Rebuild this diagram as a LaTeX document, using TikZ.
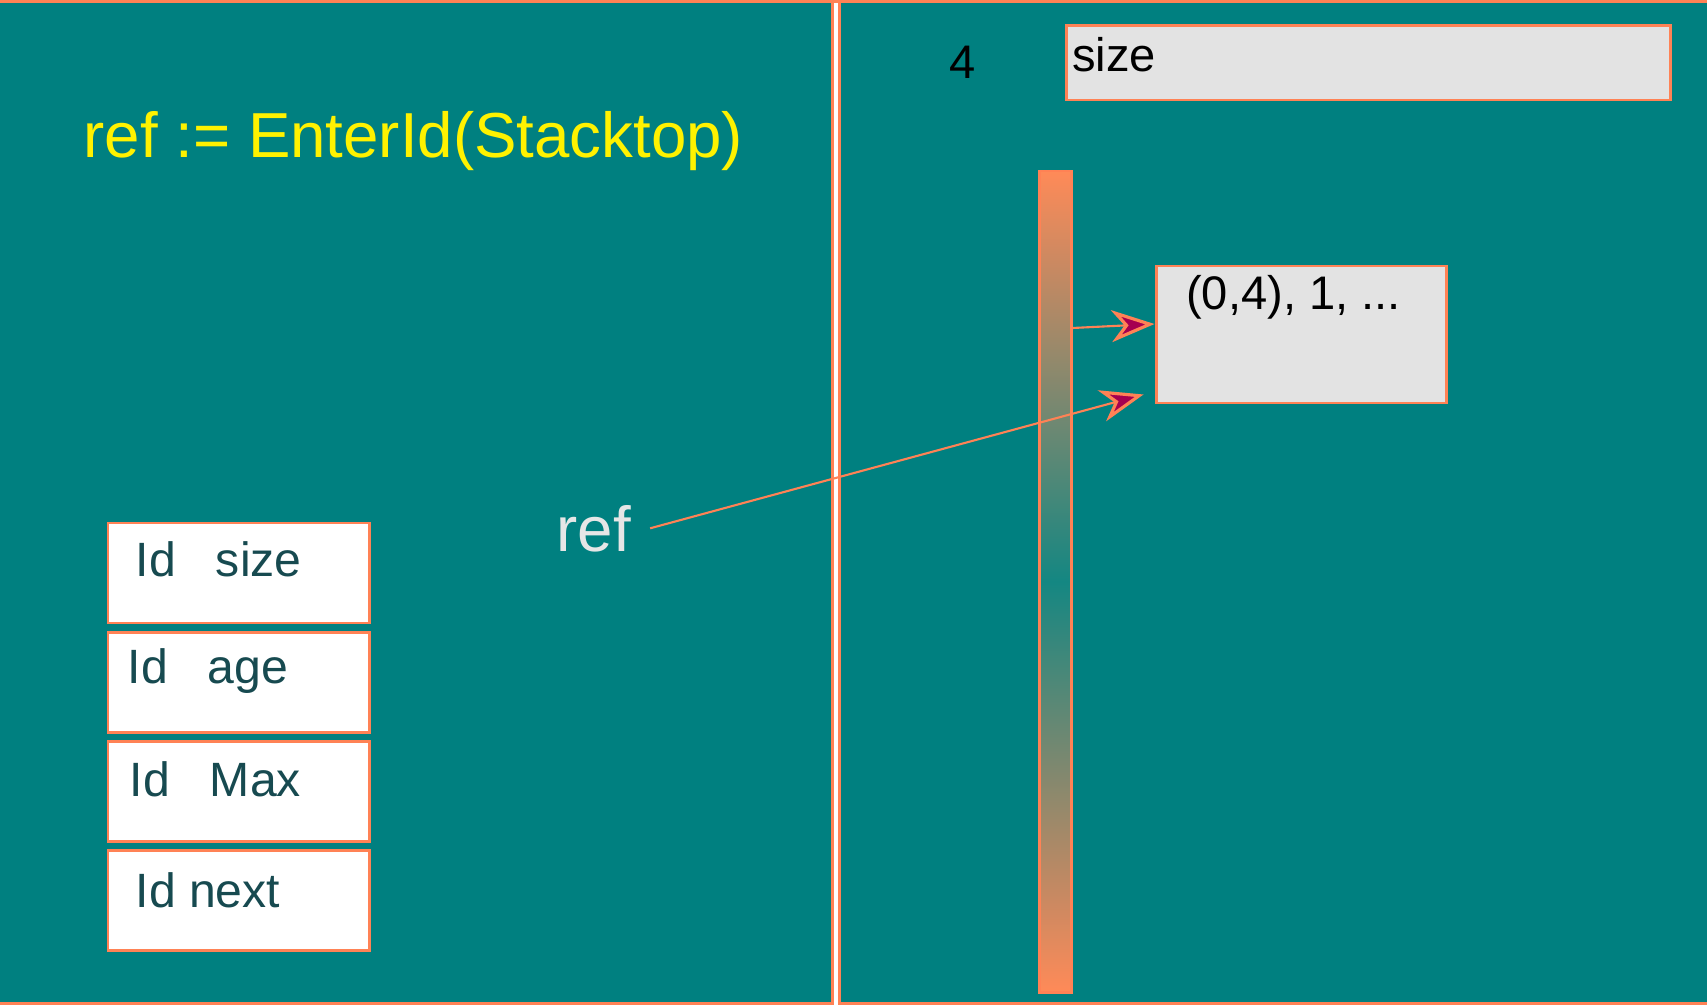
\documentclass[tikz,border=0pt]{standalone}
\usepackage{fontspec}
\setmainfont{Liberation Sans}
\usetikzlibrary{positioning,arrows.meta}
\definecolor{panelteal}{RGB}{0,128,128}
\definecolor{edgeorange}{RGB}{255,130,85}
\definecolor{boxgray}{RGB}{227,227,227}
\definecolor{tipmagenta}{RGB}{165,0,80}
\definecolor{idtext}{RGB}{23,74,80}
\definecolor{refgray}{RGB}{230,230,230}
\definecolor{barteal}{RGB}{20,135,130}
\definecolor{barorange}{RGB}{255,138,88}

\begin{document}
\begin{tikzpicture}[node distance=1.093cm,
	panel/.style={fill=panelteal,draw=edgeorange,line width=0.9pt},
	id box/.style={rectangle,draw=edgeorange,fill=white,line width=0.85pt,minimum width=2.61cm,minimum height=1.0cm,inner sep=0pt},
	id text/.style={anchor=base west,inner sep=0pt,text=idtext,font=\fontsize{13.7pt}{16pt}\selectfont},
	gray box/.style={rectangle,draw=edgeorange,fill=boxgray,line width=0.85pt,inner sep=0pt},
	small text/.style={anchor=base west,inner sep=0pt,font=\fontsize{13.4pt}{16pt}\selectfont},
	big text/.style={anchor=base west,inner sep=0pt,font=\fontsize{18.1pt}{22pt}\selectfont},
	pointer/.style={draw=edgeorange,line width=0.6pt,-{Stealth[length=0.43cm,width=0.32cm,inset=0.13cm,fill=tipmagenta,line width=0.9pt]}}]
	
	\useasboundingbox (0,0) rectangle (17.07,-10.05);
	\fill[white] (0,0) rectangle (17.07,-10.05);
	\draw[panel] (-0.02,-0.015) rectangle (8.325,-10.035);
	\draw[panel] (8.395,-0.015) rectangle (17.09,-10.035);
	\draw[edgeorange,line width=0.9pt] (0,-0.015) -- (17.07,-0.015);
	
	% left panel
	\node[big text,text=yellow] (title) at (0.83,-1.58) {ref := EnterId(Stacktop)};
	\node[big text,text=refgray] (ref) at (5.56,-5.51) {ref};
	
	\node[id box] (b1) at (2.385,-5.73) {};
	\node[id box] (b2) [below of=b1] {};
	\node[id box] (b3) [below of=b2] {};
	\node[id box] (b4) [below of=b3] {};
	\node[id text] (t1) at ([xshift=0.285cm,yshift=-0.55cm]b1.north west) {Id\ \ \ size};
	\node[id text] (t2) at ([xshift=0.205cm,yshift=-0.53cm]b2.north west) {Id\ \ \ age};
	\node[id text] (t3) at ([xshift=0.225cm,yshift=-0.56cm]b3.north west) {Id\ \ \ Max};
	\node[id text] (t4) at ([xshift=0.285cm,yshift=-0.58cm]b4.north west) {Id next};
	
	% right panel
	\node[small text] (four) at (9.49,-0.79) {4};
	\node[gray box,minimum width=6.04cm,minimum height=0.74cm] (sizebox) at (13.68,-0.63) {};
	\node[small text] (sizetxt) at ([xshift=0.07cm,yshift=-0.47cm]sizebox.north west) {size};
	
	\node[rectangle,draw=edgeorange,line width=0.85pt,minimum width=0.32cm,minimum height=8.21cm,
		top color=barorange,bottom color=barorange,middle color=barteal] (bar) at (10.55,-5.815) {};
	
	\node[gray box,minimum width=2.90cm,minimum height=1.37cm] (valbox) at (13.01,-3.345) {};
	\node[small text] (valtxt) at ([xshift=0.31cm,yshift=-0.45cm]valbox.north west) {(0,4), 1, ...};
	
	\path
		([yshift=2.535cm]bar.east) edge[pointer] ([yshift=0.105cm]valbox.west)
		([xshift=0.185cm]ref.east) edge[pointer] ([xshift=-0.11cm,yshift=0.10cm]valbox.south west);
	
\end{tikzpicture}
\end{document}
